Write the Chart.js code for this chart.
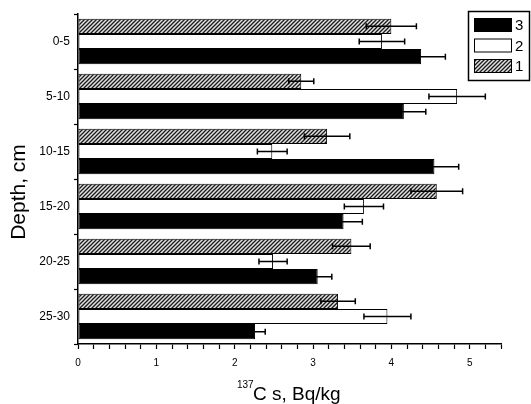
<!DOCTYPE html>
<html lang="en">
<head>
    <meta charset="UTF-8">
    <title>137Cs depth profile</title>
    <script src="https://cdn.jsdelivr.net/npm/chart.js"></script>
    <style>
        html, body { margin: 0; padding: 0; background: #fff; }
        #wrap { width: 531px; height: 404px; }
    </style>
</head>
<body>
<div id="wrap"><canvas id="csChart" width="531" height="404"></canvas></div>
<script>
    // depth layers, top to bottom
    const depths = ['0-5', '5-10', '10-15', '15-20', '20-25', '25-30'];

    // series 1 (hatched), 2 (white), 3 (black) - 137Cs, Bq/kg
    const series1 = [4.00, 2.85, 3.18, 4.58, 3.49, 3.32];
    const series2 = [3.88, 4.84, 2.48, 3.65, 2.49, 3.95];
    const series3 = [4.38, 4.16, 4.55, 3.39, 3.06, 2.26];

    // error bar half-widths
    const err1 = [0.32, 0.16, 0.29, 0.33, 0.24, 0.22];
    const err2 = [0.29, 0.36, 0.19, 0.25, 0.18, 0.30];
    const err3 = [0.31, 0.28, 0.31, 0.24, 0.18, 0.13];

    const xTickLabels = ['0', '1', '2', '3', '4', '5'];

    function makeHatch() {
        const c = document.createElement('canvas');
        c.width = 4; c.height = 4;
        const g = c.getContext('2d');
        g.fillStyle = '#e2e2e2';
        g.fillRect(0, 0, 4, 4);
        g.strokeStyle = '#1a1a1a';
        g.lineWidth = 1.3;
        g.beginPath();
        g.moveTo(-1, 5); g.lineTo(5, -1);
        g.moveTo(-1, 1); g.lineTo(1, -1);
        g.moveTo(3, 5); g.lineTo(5, 3);
        g.stroke();
        return g.createPattern(c, 'repeat');
    }
    const hatch = makeHatch();

    const errorBars = {
        id: 'errorBars',
        afterDatasetsDraw(chart) {
            const ctx = chart.ctx;
            const xs = chart.scales.x;
            const errs = [err1, err2, err3];
            ctx.save();
            ctx.strokeStyle = '#000';
            ctx.lineWidth = 1.5;
            chart.data.datasets.forEach((ds, i) => {
                const meta = chart.getDatasetMeta(i);
                meta.data.forEach((bar, j) => {
                    const v = ds.data[j], e = errs[i][j];
                    const x1 = xs.getPixelForValue(v - e);
                    const x2 = xs.getPixelForValue(v + e);
                    const y = bar.y;
                    ctx.beginPath();
                    ctx.moveTo(x1, y); ctx.lineTo(x2, y);
                    ctx.moveTo(x1, y - 3); ctx.lineTo(x1, y + 3);
                    ctx.moveTo(x2, y - 3); ctx.lineTo(x2, y + 3);
                    ctx.stroke();
                });
            });
            ctx.restore();
        }
    };

    const extras = {
        id: 'extras',
        afterDraw(chart) {
            const ctx = chart.ctx;
            ctx.save();
            ctx.fillStyle = '#000';
            // y title
            ctx.translate(25, 192);
            ctx.rotate(-Math.PI / 2);
            ctx.font = '21px "Liberation Sans", Arial, sans-serif';
            ctx.textAlign = 'center';
            ctx.textBaseline = 'alphabetic';
            ctx.fillText('Depth, cm', 0, 0);
            ctx.restore();

            // x title with superscript
            ctx.save();
            ctx.fillStyle = '#000';
            ctx.textAlign = 'left';
            ctx.textBaseline = 'alphabetic';
            ctx.font = '10px "Liberation Sans", Arial, sans-serif';
            ctx.fillText('137', 237, 388);
            ctx.font = '19px "Liberation Sans", Arial, sans-serif';
            ctx.fillText('C s, Bq/kg', 253, 400);
            ctx.restore();

            // legend
            ctx.save();
            ctx.strokeStyle = '#000';
            ctx.lineWidth = 1.5;
            ctx.fillStyle = '#fff';
            ctx.fillRect(468, 11, 62, 70);
            ctx.strokeRect(468.5, 11.5, 61, 69);
            const items = [
                { label: '3', fill: '#000' },
                { label: '2', fill: '#fff' },
                { label: '1', fill: hatch }
            ];
            ctx.font = '15px "Liberation Sans", Arial, sans-serif';
            ctx.textBaseline = 'middle';
            items.forEach((it, k) => {
                const y = 18 + k * 20.5;
                ctx.fillStyle = it.fill;
                ctx.fillRect(474, y, 38, 14);
                ctx.lineWidth = 1;
                ctx.strokeRect(474.5, y + 0.5, 37, 13);
                ctx.fillStyle = '#000';
                ctx.fillText(it.label, 515, y + 8);
            });
            ctx.restore();
        }
    };

    Chart.defaults.font.family = '"Liberation Sans", Arial, sans-serif';
    Chart.defaults.color = '#000';

    new Chart(document.getElementById('csChart'), {
        type: 'bar',
        data: {
            labels: depths,
            datasets: [
                { label: '1', data: series1, backgroundColor: hatch, borderColor: '#000', borderWidth: 1, borderSkipped: false },
                { label: '2', data: series2, backgroundColor: '#fff', borderColor: '#000', borderWidth: 1, borderSkipped: false },
                { label: '3', data: series3, backgroundColor: '#000', borderColor: '#000', borderWidth: 1, borderSkipped: false }
            ]
        },
        options: {
            indexAxis: 'y',
            responsive: false,
            animation: false,
            devicePixelRatio: 1,
            layout: { padding: { top: 14, right: 30, left: 0, bottom: 0 } },
            datasets: { bar: { categoryPercentage: 0.83, barPercentage: 1.0 } },
            plugins: { legend: { display: false }, tooltip: { enabled: false } },
            scales: {
                x: {
                    min: 0, max: 5.4,
                    afterFit(s) { s.height = 60; },
                    ticks: {
                        stepSize: 0.2,
                        autoSkip: false,
                        maxRotation: 0,
                        padding: 8,
                        font: { size: 10 },
                        callback(v) {
                            const r = Math.round(v);
                            return Math.abs(v - r) < 1e-6 && r < xTickLabels.length ? xTickLabels[r] : '';
                        }
                    },
                    grid: { drawOnChartArea: false, color: '#000', tickColor: '#000', tickLength: 5, tickWidth: 1.2 },
                    border: { color: '#000', width: 1.5 }
                },
                y: {
                    afterFit(s) { s.width = 78; },
                    ticks: { padding: 4, font: { size: 12 } },
                    grid: { drawOnChartArea: false, offset: true, color: '#000', tickColor: '#000', tickLength: 4, tickWidth: 1.2 },
                    border: { color: '#000', width: 1.5 }
                }
            }
        },
        plugins: [errorBars, extras]
    });
</script>
</body>
</html>
